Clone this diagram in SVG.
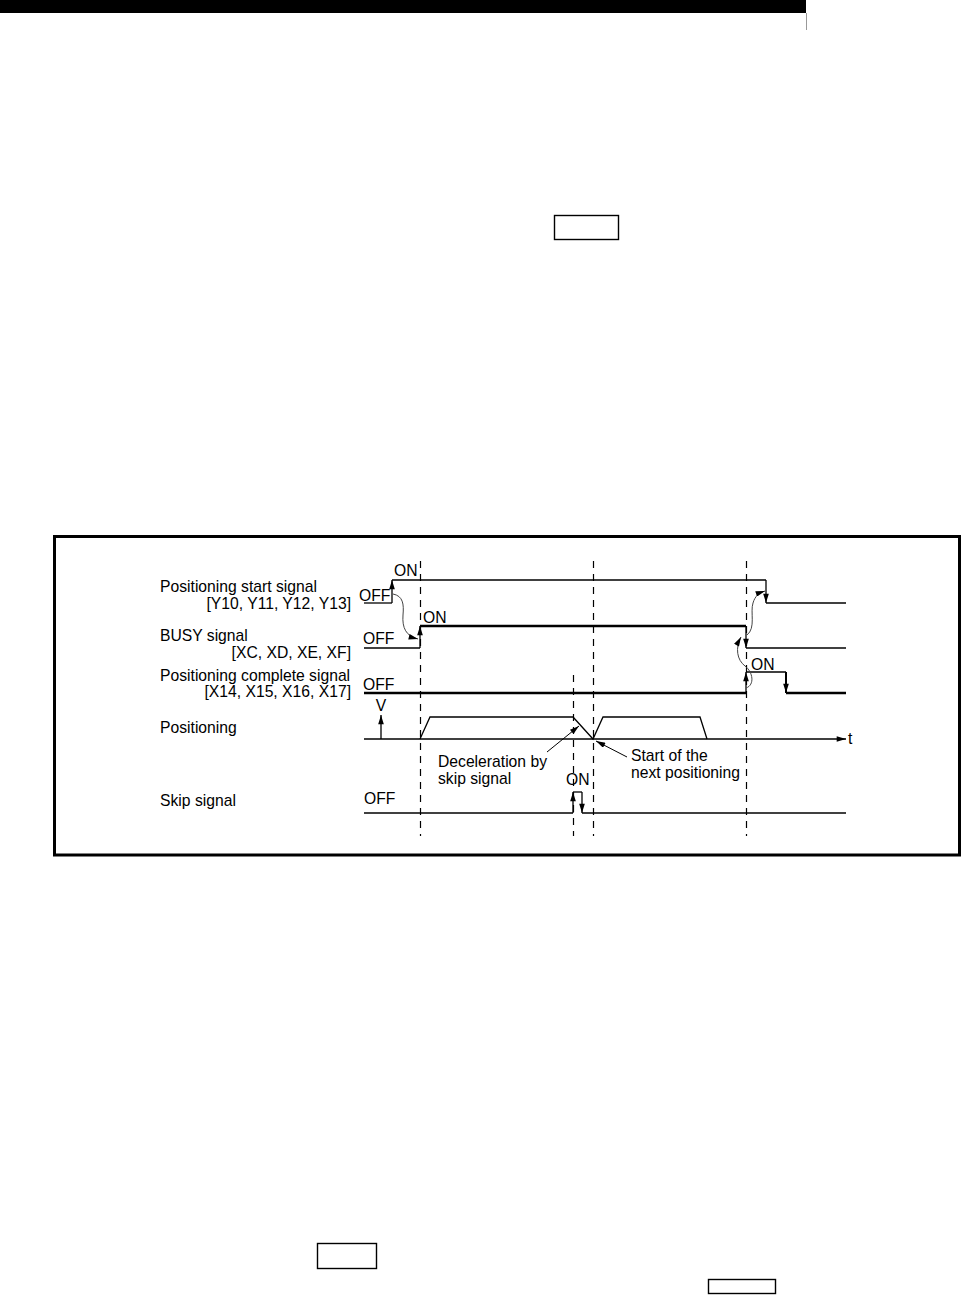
<svg xmlns="http://www.w3.org/2000/svg" width="961" height="1295" viewBox="0 0 961 1295">
<defs>
<style>
text{font-family:"Liberation Sans",Arial,sans-serif;font-size:15.7px;fill:#000}
.sig{fill:none;stroke:#000;stroke-width:1.3}
.thick{fill:none;stroke:#000;stroke-width:2.3}
.edge{stroke:#000;stroke-width:1.3;marker-end:url(#ah)}
.edgeT{stroke:#000;stroke-width:2;marker-end:url(#ah)}
.dash{stroke:#000;stroke-width:1.2;stroke-dasharray:7 6}
.curve{fill:none;stroke:#444;stroke-width:1;marker-end:url(#ah)}
.lead{fill:none;stroke:#000;stroke-width:1;marker-end:url(#ah)}
.box{fill:none;stroke:#000;stroke-width:1.4}
</style>
<marker id="ah" viewBox="0 0 10 6" refX="10" refY="3" markerWidth="10" markerHeight="5.6" orient="auto" markerUnits="userSpaceOnUse">
<path d="M0,0 L10,3 L0,6 z" fill="#000"/>
</marker>
</defs>
<rect width="961" height="1295" fill="#fff"/>
<rect x="0" y="0" width="806" height="13" fill="#000"/>
<line x1="806.5" y1="13" x2="806.5" y2="30" stroke="#999" stroke-width="1"/>
<rect class="box" x="554.5" y="215.5" width="64" height="24"/>
<rect class="box" x="317.5" y="1243.5" width="59" height="25"/>
<rect class="box" x="708.5" y="1279.5" width="67" height="14"/>
<rect x="54.5" y="536.5" width="905" height="318.5" fill="none" stroke="#000" stroke-width="3"/>

<g id="labels">
<text x="160" y="592">Positioning start signal</text>
<text x="351" y="609" text-anchor="end">[Y10, Y11, Y12, Y13]</text>
<text x="160" y="641">BUSY signal</text>
<text x="351" y="658" text-anchor="end">[XC, XD, XE, XF]</text>
<text x="160" y="681">Positioning complete signal</text>
<text x="351" y="697" text-anchor="end">[X14, X15, X16, X17]</text>
<text x="160" y="733">Positioning</text>
<text x="160" y="806">Skip signal</text>
</g>

<g id="gridlines">
<line class="dash" x1="420.5" y1="561" x2="420.5" y2="836"/>
<line class="dash" x1="593.5" y1="561" x2="593.5" y2="836"/>
<line class="dash" x1="746.5" y1="561" x2="746.5" y2="836"/>
<line class="dash" x1="573.5" y1="675" x2="573.5" y2="836"/>
</g>

<g id="start-signal">
<polyline class="sig" points="364,603 392,603"/>
<polyline class="sig" points="392,580 766,580"/>
<polyline class="sig" points="766,603 846,603"/>
<line class="edge" x1="392" y1="603" x2="392" y2="580"/>
<line class="edge" x1="766" y1="580" x2="766" y2="603"/>
<text x="394" y="576">ON</text>
<text x="359" y="601">OFF</text>
</g>

<g id="busy-signal">
<polyline class="sig" points="364,648 420,648"/>
<polyline class="thick" points="420,626 746,626"/>
<polyline class="sig" points="746,648 846,648"/>
<line class="edge" x1="420" y1="648" x2="420" y2="626"/>
<line class="edge" x1="746" y1="626" x2="746" y2="648"/>
<text x="423" y="623">ON</text>
<text x="363" y="644">OFF</text>
</g>

<g id="complete-signal">
<polyline class="thick" points="364,693 746,693"/>
<polyline class="sig" points="746,672 786,672"/>
<polyline class="thick" points="786,693 846,693"/>
<line class="edge" x1="746" y1="693" x2="746" y2="672"/>
<line class="edgeT" x1="786" y1="672" x2="786" y2="693"/>
<text x="751" y="670">ON</text>
<text x="363" y="690">OFF</text>
</g>

<g id="positioning">
<line class="edge" x1="364" y1="739" x2="846" y2="739"/>
<line class="edge" x1="381" y1="739" x2="381" y2="715"/>
<text x="381" y="711" text-anchor="middle">V</text>
<text x="848" y="744">t</text>
<polyline class="sig" points="420,739 430,717 573,717 593,739 603,717 700,717 707,739"/>
<text x="438" y="767">Deceleration by</text>
<text x="438" y="784">skip signal</text>
<text x="631" y="761">Start of the</text>
<text x="631" y="778">next positioning</text>
</g>

<g id="skip-signal">
<polyline class="sig" points="364,813 573,813"/>
<polyline class="sig" points="573,792 582,792"/>
<polyline class="sig" points="582,813 846,813"/>
<line class="edge" x1="573" y1="813" x2="573" y2="792"/>
<line class="edge" x1="582" y1="792" x2="582" y2="813"/>
<text x="566" y="785">ON</text>
<text x="364" y="804">OFF</text>
</g>

<g id="connectors">
<path class="curve" d="M393,594 C403,596 404,604 403,615 C402,628 406,636 418,639"/>
<path class="curve" d="M747,635 C756,628 750,612 753,603 C755,596 759,593 765,591"/>
<path class="curve" d="M746,688 C755,685 753,672 745,666 C737,660 735,648 741,637"/>
<line class="lead" x1="547" y1="752" x2="579" y2="726"/>
<line class="lead" x1="627" y1="757" x2="596" y2="741"/>
</g>
</svg>
